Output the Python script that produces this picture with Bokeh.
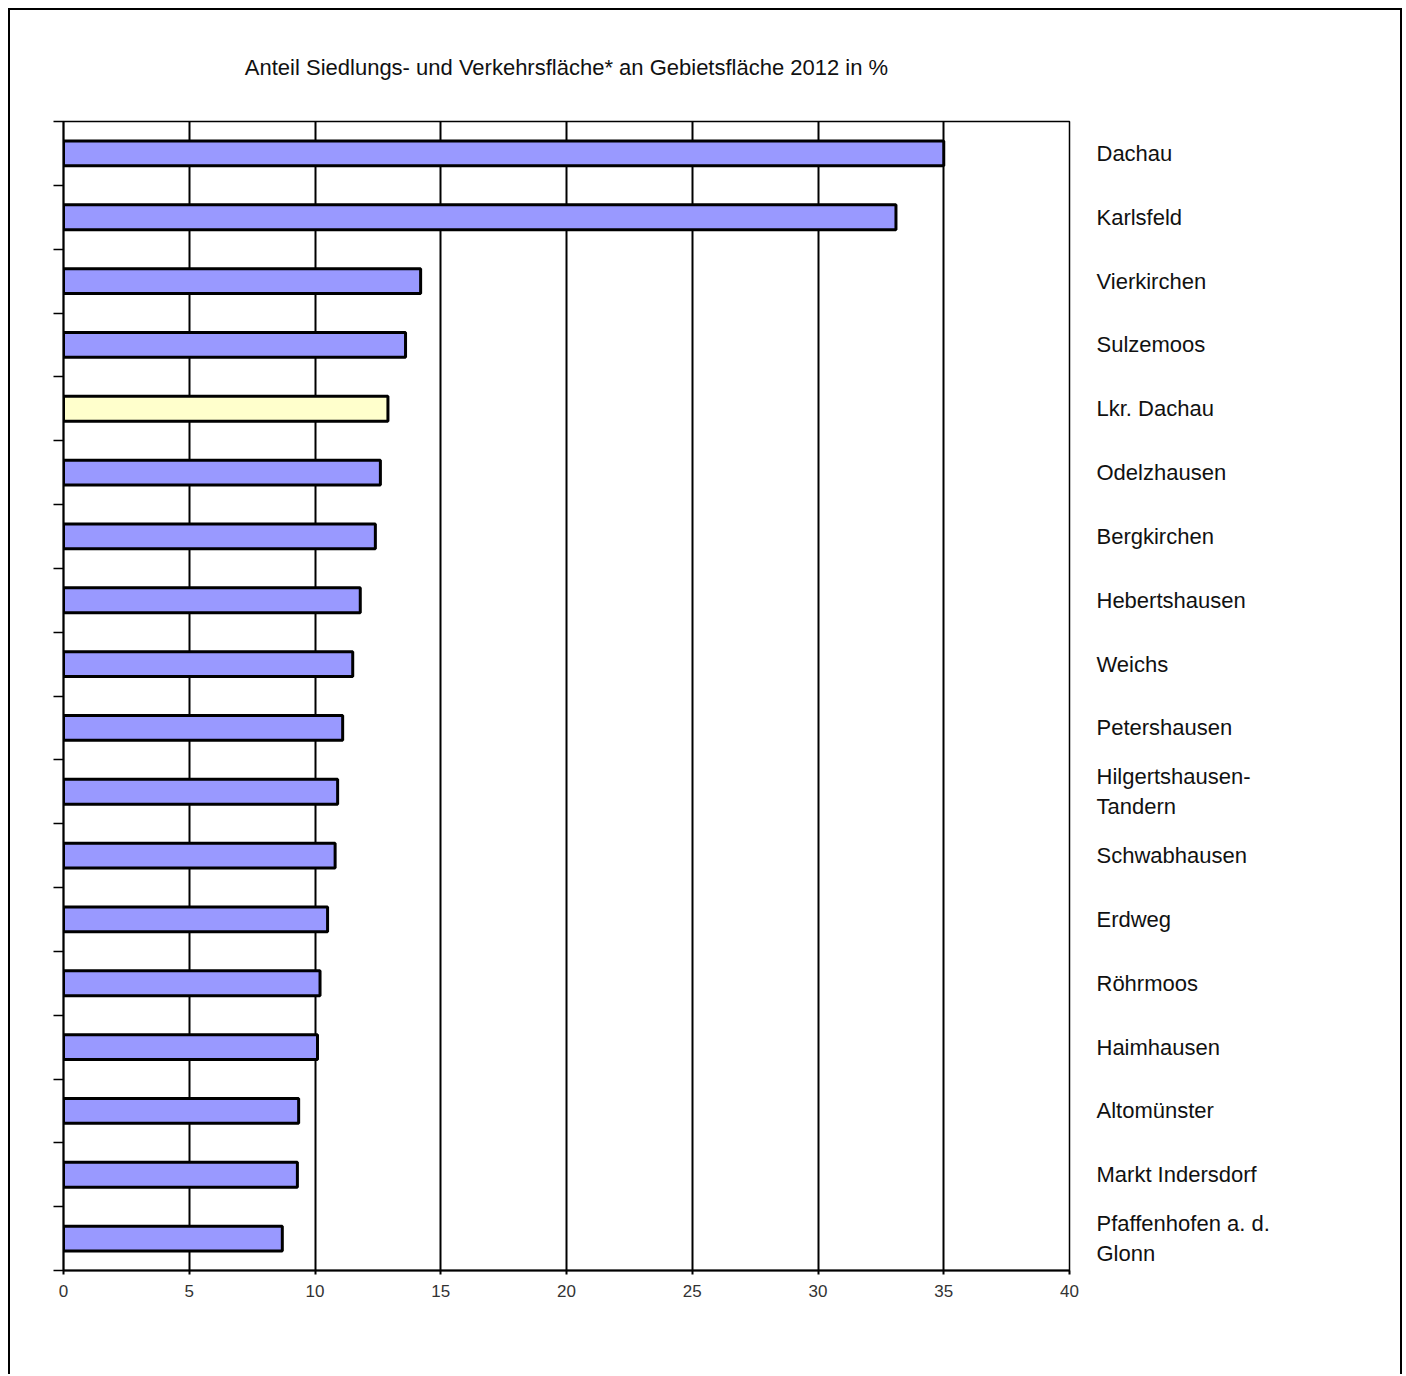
from bokeh.plotting import figure
from bokeh.models import (Range1d, LinearAxis, FixedTicker, ColumnDataSource)
from bokeh.embed import file_html
from bokeh.resources import INLINE

title_text = "Anteil Siedlungs- und Verkehrsfläche* an Gebietsfläche 2012 in %"
names = ["Dachau", "Karlsfeld", "Vierkirchen", "Sulzemoos", "Lkr. Dachau",
         "Odelzhausen", "Bergkirchen", "Hebertshausen", "Weichs", "Petershausen",
         "Hilgertshausen-\nTandern", "Schwabhausen", "Erdweg", "Röhrmoos",
         "Haimhausen", "Altomünster", "Markt Indersdorf", "Pfaffenhofen a. d.\nGlonn"]
values = [35.0, 33.1, 14.2, 13.6, 12.9, 12.6, 12.4, 11.8, 11.5, 11.1,
          10.9, 10.8, 10.5, 10.2, 10.1, 9.35, 9.3, 8.7]
highlight = "Lkr. Dachau"
x_ticks = [0, 5, 10, 15, 20, 25, 30, 35, 40]

BAR = "#9999FF"
HIGH = "#FFFFCC"
FONT = "Liberation Sans"

n_cat = len(names)
centers = [i + 0.5 for i in range(n_cat)]          # slot centres (top = first)
bounds = list(range(n_cat + 1))                     # slot boundaries
colors = [HIGH if n == highlight else BAR for n in names]
src = ColumnDataSource(dict(y=centers, value=values, color=colors))

p = figure(width=1394, height=1366, output_backend="svg", toolbar_location=None,
           x_range=Range1d(0, 40), y_range=Range1d(n_cat, 0),
           y_axis_location=None, x_axis_location=None,
           min_border_left=53, min_border_right=335, min_border_top=111,
           min_border_bottom=106)
p.styles = {"margin-left": "8px", "margin-top": "8px",
            "border-left": "2px solid black", "border-top": "2px solid black",
            "border-right": "2px solid black"}

p.background_fill_color = "white"
p.border_fill_color = "white"
p.outline_line_color = "black"
p.outline_line_width = 1.5

# title
p.title.text = title_text
p.title.align = "center"
p.title.offset = 22
p.title.text_font = FONT
p.title.text_font_size = "22px"
p.title.text_font_style = "normal"
p.title.text_color = "#111111"
p.title.standoff = 83

p.hbar(y="y", left=0, right="value", height=0.39, fill_color="color",
       line_color="black", line_width=3, source=src)

# bottom axis
xa = LinearAxis(ticker=FixedTicker(ticks=x_ticks))
xa.axis_line_color = "black"
xa.axis_line_width = 2
xa.major_tick_line_color = "black"
xa.major_tick_line_width = 2
xa.major_tick_out = 4
xa.major_tick_in = 0
xa.minor_tick_line_color = None
xa.major_label_text_font = FONT
xa.major_label_text_font_size = "17px"
xa.major_label_text_color = "#333333"
xa.major_label_standoff = 10
p.add_layout(xa, "below")

# left axis: ticks at category boundaries
ya = LinearAxis(ticker=FixedTicker(ticks=bounds))
ya.axis_line_color = "black"
ya.axis_line_width = 2
ya.major_tick_line_color = "black"
ya.major_tick_line_width = 1.5
ya.major_tick_out = 10
ya.major_tick_in = 0
ya.minor_tick_line_color = None
ya.major_label_text_color = None
ya.major_label_text_font_size = "1px"
ya.major_label_standoff = 0
p.add_layout(ya, "left")

# right axis: category names
ra = LinearAxis(ticker=FixedTicker(ticks=centers),
                major_label_overrides={c: n for c, n in zip(centers, names)})
ra.axis_line_color = None
ra.major_tick_line_color = None
ra.minor_tick_line_color = None
ra.major_tick_out = 0
ra.major_tick_in = 0
ra.major_label_standoff = 27
ra.major_label_text_font = FONT
ra.major_label_text_font_size = "22px"
ra.major_label_text_color = "#111111"
p.add_layout(ra, "right")

p.xgrid.ticker = FixedTicker(ticks=x_ticks)
p.xgrid.grid_line_color = "black"
p.xgrid.grid_line_width = 2
p.ygrid.grid_line_color = None

open("out.html", "w").write(file_html(p, INLINE))
